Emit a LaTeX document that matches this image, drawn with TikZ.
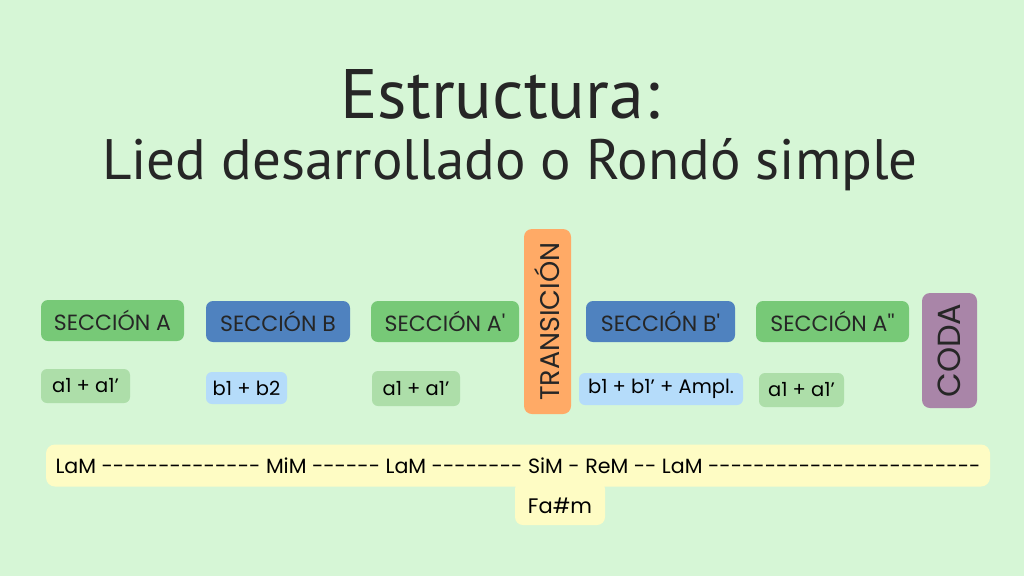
\documentclass[tikz,border=0pt]{standalone}
\usepackage{fontspec}
\setmainfont{Poppins}[Ligatures=TeXOff]
\newfontfamily\titlefont{PT Sans}
\usepackage{tikz}
\usetikzlibrary{positioning}

\definecolor{bgcol}{HTML}{D6F6D6}
\definecolor{secA}{HTML}{77C977}
\definecolor{secB}{HTML}{4F82BF}
\definecolor{subA}{HTML}{ADDEA9}
\definecolor{subB}{HTML}{B5DCFA}
\definecolor{transcol}{HTML}{FFAA66}
\definecolor{codacol}{HTML}{A985A8}
\definecolor{keycol}{HTML}{FEFCC4}
\definecolor{inkcol}{HTML}{262626}

\begin{document}
\begin{tikzpicture}[x=1pt,y=-1pt,
  secbox/.style={rounded corners=7pt, minimum height=41pt, inner sep=0pt,
    text=inkcol, font=\fontsize{22}{22}\selectfont},
  subbox/.style={rounded corners=6pt, minimum height=33pt, inner sep=0pt,
    text=black, font=\fontsize{19.5}{19.5}\selectfont},
  vbox/.style={rounded corners=8pt, inner sep=0pt, rotate=90,
    text=inkcol}]
\fill[bgcol] (0,0) rectangle (1024,576);
\useasboundingbox (0,0) rectangle (1024,576);

% title
\node[text=inkcol, font=\titlefont\fontsize{70}{70}\selectfont] (title) at (500,94) {Estructura:};
\node[text=inkcol, font=\titlefont\fontsize{57}{57}\selectfont] (subtitle) at (510,165) {Lied desarrollado o Rondó simple};

% sections
\node[secbox, fill=secA, minimum width=143pt] (secA) at (112.5,320.5) {SECCIÓN A};
\node[secbox, fill=secB, minimum width=144pt] (secB) at (278,321.5) {SECCIÓN B};
\node[secbox, fill=secA, minimum width=148pt] (secA2) at (445,321.5) {SECCIÓN A'};
\node[vbox, fill=transcol, minimum width=185pt, minimum height=47pt,
  font=\fontsize{27}{27}\selectfont] (trans) at (547.5,321.5) {TRANSICIÓN};
\node[secbox, fill=secB, minimum width=149pt] (secB2) at (660.5,321.5) {SECCIÓN B'};
\node[secbox, fill=secA, minimum width=153pt] (secA3) at (832.5,321.5) {SECCIÓN A''};
\node[vbox, fill=codacol, minimum width=115pt, minimum height=55pt,
  font=\fontsize{32}{32}\selectfont] (coda) at (949.5,350.5) {CODA};

% themes
\node[subbox, fill=subA, minimum width=89pt, minimum height=34pt] (subA) at (85.5,386) {a1 + a1’};
\node[subbox, fill=subB, minimum width=81pt, minimum height=32pt] (subB) at (246.5,388) {b1 + b2};
\node[subbox, fill=subA, minimum width=88pt, minimum height=35pt] (subA2) at (416,388.5) {a1 + a1’};
\node[subbox, fill=subB, minimum width=164pt, minimum height=32pt] (subB2) at (661,389) {b1 + b1’ + Ampl.};
\node[subbox, fill=subA, minimum width=85pt, minimum height=34pt] (subA3) at (801.5,390) {a1 + a1’};

% keys
\node[fill=keycol, rounded corners=8pt, minimum width=90pt, minimum height=44pt, inner sep=0pt,
  text=black, font=\fontsize{21}{21}\selectfont, text depth=0pt] (fasm) at (560,503) {\raisebox{-6pt}{Fa\#m}};
\node[fill=keycol, rounded corners=9pt, minimum width=944pt, minimum height=42pt, inner sep=0pt,
  text=black, font=\fontsize{20.6}{20.6}\selectfont] (keys) at (518,465.5)
  {LaM -------------- MiM ------ LaM -------- SiM - ReM -- LaM ------------------------};
\end{tikzpicture}
\end{document}
